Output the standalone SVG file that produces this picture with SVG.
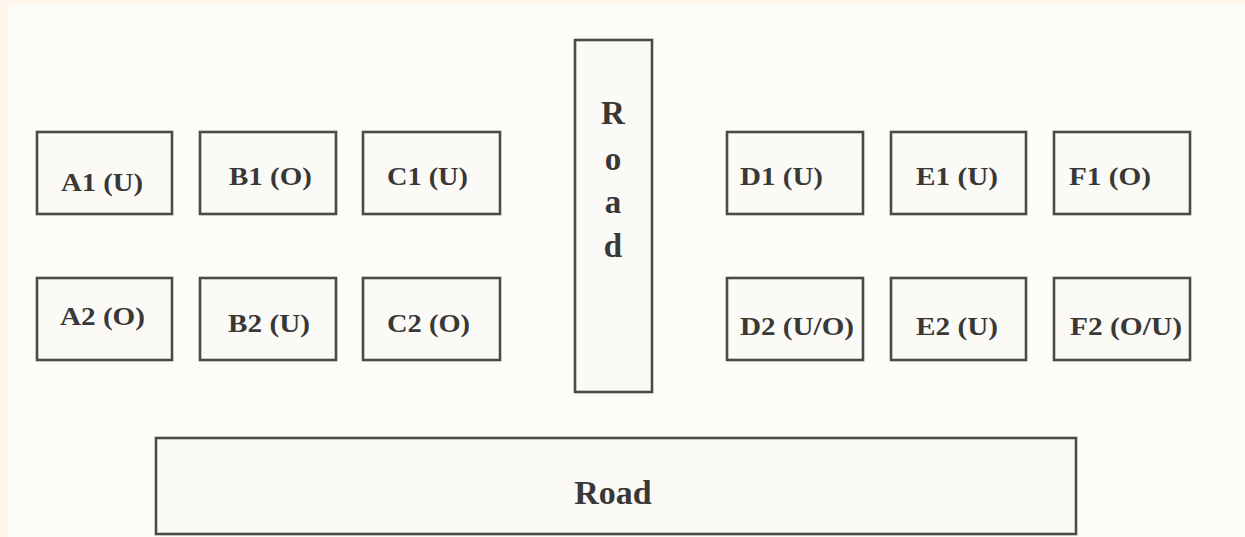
<svg xmlns="http://www.w3.org/2000/svg" width="1245" height="537" viewBox="0 0 1245 537">
<style>
.bg{fill:#fff6ea}
.inner{fill:#fefcf8}
.box{fill:#fbfaf7;stroke:#4a4a48;stroke-width:2.6}
.lbl{font-family:"Liberation Serif","Times New Roman",serif;font-weight:bold;font-size:25px;fill:#383836}
.road{font-family:"Liberation Serif","Times New Roman",serif;font-weight:bold;font-size:33px;fill:#383836}
</style>
<rect class="bg" x="0" y="0" width="1245" height="537"/>
<rect class="inner" x="8" y="4" width="1237" height="533"/>
<g id="A1"><rect class="box" x="37" y="132" width="135" height="82"/><text class="lbl" x="61" y="191" textLength="82" lengthAdjust="spacingAndGlyphs">A1 (U)</text></g>
<g id="B1"><rect class="box" x="200" y="132" width="136" height="82"/><text class="lbl" x="229" y="185" textLength="83" lengthAdjust="spacingAndGlyphs">B1 (O)</text></g>
<g id="C1"><rect class="box" x="363" y="132" width="137" height="82"/><text class="lbl" x="387" y="185" textLength="81" lengthAdjust="spacingAndGlyphs">C1 (U)</text></g>
<g id="A2"><rect class="box" x="37" y="278" width="135" height="82"/><text class="lbl" x="60" y="325" textLength="85" lengthAdjust="spacingAndGlyphs">A2 (O)</text></g>
<g id="B2"><rect class="box" x="200" y="278" width="136" height="82"/><text class="lbl" x="228" y="332" textLength="82" lengthAdjust="spacingAndGlyphs">B2 (U)</text></g>
<g id="C2"><rect class="box" x="363" y="278" width="137" height="82"/><text class="lbl" x="387" y="332" textLength="83" lengthAdjust="spacingAndGlyphs">C2 (O)</text></g>
<g id="RoadV"><rect class="box" x="575" y="40" width="77" height="352"/>
<text class="road" x="613" y="124" text-anchor="middle">R</text>
<text class="road" x="613" y="170" text-anchor="middle">o</text>
<text class="road" x="613" y="213" text-anchor="middle">a</text>
<text class="road" x="613" y="257" text-anchor="middle">d</text></g>
<g id="D1"><rect class="box" x="727" y="132" width="136" height="82"/><text class="lbl" x="740" y="185" textLength="83" lengthAdjust="spacingAndGlyphs">D1 (U)</text></g>
<g id="E1"><rect class="box" x="891" y="132" width="135" height="82"/><text class="lbl" x="916" y="185" textLength="82" lengthAdjust="spacingAndGlyphs">E1 (U)</text></g>
<g id="F1"><rect class="box" x="1054" y="132" width="136" height="82"/><text class="lbl" x="1069" y="185" textLength="82" lengthAdjust="spacingAndGlyphs">F1 (O)</text></g>
<g id="D2"><rect class="box" x="727" y="278" width="136" height="82"/><text class="lbl" x="740" y="335" textLength="114" lengthAdjust="spacingAndGlyphs">D2 (U/O)</text></g>
<g id="E2"><rect class="box" x="891" y="278" width="135" height="82"/><text class="lbl" x="916" y="335" textLength="82" lengthAdjust="spacingAndGlyphs">E2 (U)</text></g>
<g id="F2"><rect class="box" x="1054" y="278" width="136" height="82"/><text class="lbl" x="1070" y="335" textLength="112" lengthAdjust="spacingAndGlyphs">F2 (O/U)</text></g>
<g id="RoadH"><rect class="box" x="156" y="438" width="920" height="96"/><text class="road" x="613" y="504" text-anchor="middle" style="font-size:34px">Road</text></g>
<g id="connectors"></g>
</svg>
